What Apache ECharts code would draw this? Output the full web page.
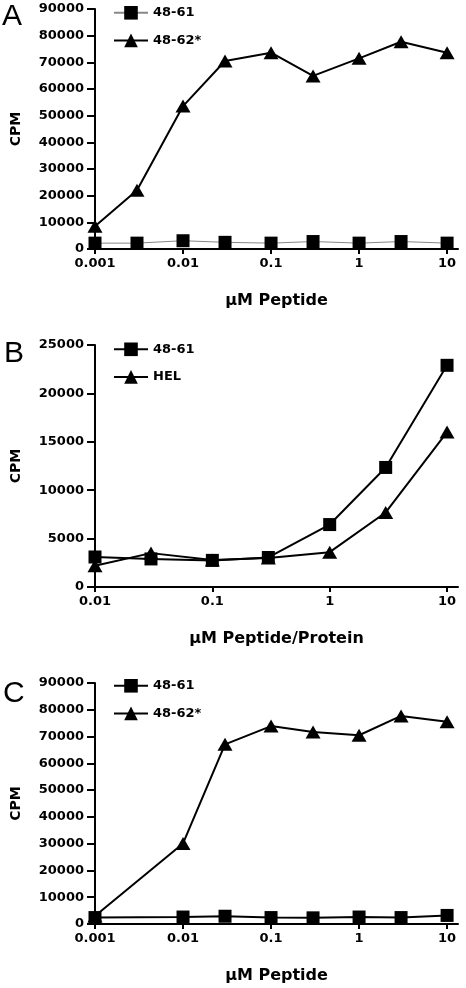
<!DOCTYPE html>
<html><head><meta charset="utf-8">
<script src="https://cdn.jsdelivr.net/npm/echarts@6/dist/echarts.min.js"></script>
<style>html,body{margin:0;padding:0;background:#fff}#c{width:466px;height:988px}</style>
</head><body><div id="c"></div>
<script>
// Panel A
const xA = [0.001, 0.003, 0.01, 0.03, 0.1, 0.3, 1, 3, 10];
const a4861 = [2200, 2200, 3100, 2500, 2200, 2800, 2200, 2800, 2200];
const a4862 = [8500, 22000, 53600, 70500, 73600, 64900, 71500, 77700, 73600];
// Panel B
const xB = [0.01, 0.03, 0.1, 0.3, 1, 3, 10];
const b4861 = [3100, 2900, 2750, 3050, 6450, 12350, 22900];
const bHEL = [2200, 3500, 2800, 3000, 3600, 7700, 16000];
// Panel C
const xC = [0.001, 0.01, 0.03, 0.1, 0.3, 1, 3, 10];
const c4861 = [2400, 2600, 2900, 2400, 2300, 2600, 2400, 3200];
const c4862 = [3000, 30100, 67100, 73900, 71700, 70500, 77700, 75500];
// ticks
const ticksA = [0.001, 0.01, 0.1, 1, 10];
const ticksB = [0.01, 0.1, 1, 10];
const titleA = 'μM Peptide', titleB = 'μM Peptide/Protein', titleC = 'μM Peptide';

const FONT = 'DejaVu Sans';
const pair = (xs, ys) => xs.map((x, i) => [x, ys[i]]);
const chart = echarts.init(document.getElementById('c'));

function xAxis(gi, ticks, max, title) {
  return {
    type: 'log', logBase: 10, gridIndex: gi, min: ticks[0], max: max,
    name: title, nameLocation: 'middle', nameGap: 44, nameMoveOverlap: false,
    nameTextStyle: {fontFamily: FONT, fontWeight: 'bold', fontSize: 16, color: '#000'},
    axisLine: {show: true, lineStyle: {color: '#000', width: 2}},
    axisTick: {show: true, length: 5, lineStyle: {color: '#000', width: 2}, customValues: ticks},
    axisLabel: {customValues: ticks, margin: 8, fontFamily: FONT, fontWeight: 'bold', fontSize: 13, color: '#000',
      formatter: v => String(+(+v).toPrecision(6))},
    splitLine: {show: false}, minorTick: {show: false}
  };
}
function yAxis(gi, max, interval) {
  return {
    type: 'value', gridIndex: gi, min: 0, max: max, interval: interval,
    name: 'CPM', nameLocation: 'middle', nameGap: 72, nameRotate: 90, nameMoveOverlap: false,
    nameTextStyle: {fontFamily: FONT, fontWeight: 'bold', fontSize: 14, color: '#000'},
    axisLine: {show: true, lineStyle: {color: '#000', width: 2}},
    axisTick: {show: true, length: 8, lineStyle: {color: '#000', width: 2}},
    axisLabel: {margin: 11, fontFamily: FONT, fontWeight: 'bold', fontSize: 13, color: '#000',
      formatter: v => String(v)},
    splitLine: {show: false}
  };
}
function line(name, gi, xs, ys, sym, color, width) {
  return {
    name: name, type: 'line', xAxisIndex: gi, yAxisIndex: gi, data: pair(xs, ys),
    symbol: sym === 'sq' ? 'rect' : 'triangle',
    symbolSize: sym === 'sq' ? 13 : [15, 13],
    showAllSymbol: true, animation: false,
    lineStyle: {color: color, width: width},
    itemStyle: {color: '#000', borderWidth: 0}
  };
}
const legendBase = {
  orient: 'vertical', itemWidth: 34, itemHeight: 17, itemGap: 14, padding: 0,
  textStyle: {fontFamily: FONT, fontWeight: 'bold', fontSize: 13, color: '#000'},
  selectedMode: false
};
const letter = (t, x, y) => ({type: 'text', left: x, top: y,
  style: {text: t, font: '30px "Liberation Sans"', fill: '#000'}});

chart.setOption({
  animation: false,
  backgroundColor: '#fff',
  grid: [
    {left: 95, top: 9, width: 363, height: 240},
    {left: 95, top: 345, width: 363, height: 242},
    {left: 95, top: 683, width: 363, height: 241}
  ],
  xAxis: [xAxis(0, ticksA, 13.3, titleA), xAxis(1, ticksB, 12.4, titleB), xAxis(2, ticksA, 13.3, titleC)],
  yAxis: [yAxis(0, 90000, 10000), yAxis(1, 25000, 5000), yAxis(2, 90000, 10000)],
  legend: [
    Object.assign({}, legendBase, {left: 113, top: 6, data: ['48-61', '48-62*']}),
    Object.assign({}, legendBase, {left: 113, top: 342.5, data: ['48-61\u200b', 'HEL']}),
    Object.assign({}, legendBase, {left: 113, top: 679, data: ['48-61 ', '48-62* ']})
  ],
  graphic: [letter('A', 2, 2), letter('B', 4, 339), letter('C', 3, 679)],
  series: [
    line('48-61', 0, xA, a4861, 'sq', '#888', 1),
    line('48-62*', 0, xA, a4862, 'tri', '#000', 2),
    line('48-61\u200b', 1, xB, b4861, 'sq', '#000', 2),
    line('HEL', 1, xB, bHEL, 'tri', '#000', 2),
    line('48-61 ', 2, xC, c4861, 'sq', '#000', 2),
    line('48-62* ', 2, xC, c4862, 'tri', '#000', 2)
  ]
});
</script></body></html>
